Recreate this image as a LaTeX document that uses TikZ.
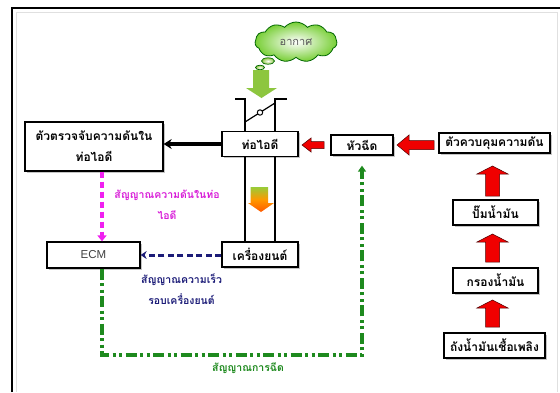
\documentclass[tikz,border=0pt]{standalone}
\usepackage{fontspec}
\setmainfont{Liberation Sans}
\newfontfamily\thai[Script=Thai]{Loma}
\usetikzlibrary{shapes.symbols,shadows,arrows.meta,calc}
\definecolor{leaf}{HTML}{8DC63F}
\definecolor{magline}{HTML}{F020F0}
\definecolor{navyline}{HTML}{1C1C78}
\definecolor{greenline}{HTML}{1E8A1E}
\definecolor{redfill}{HTML}{F00000}
\tikzset{
  box/.style={draw=black,line width=1.3pt,fill=white,inner sep=0pt,
    font=\thai\bfseries\fontsize{12}{14}\selectfont,
    drop shadow={shadow xshift=1.6pt,shadow yshift=-1.6pt,fill=black!45}},
  lbl/.style={inner sep=0pt,align=center,font=\thai\bfseries\fontsize{10.5}{21}\selectfont},
  redblk/.style={fill=redfill,draw=black!70!red,line width=0.5pt},
}
\begin{document}
\begin{tikzpicture}[x=1pt,y=-1pt]
\useasboundingbox (0,0) rectangle (560,392);
\fill[white] (0,0) rectangle (560,392);
% frame
\draw[black!12,line width=0.8pt] (16.5,392) -- (16.5,12) -- (557.5,12) -- (557.5,392);
\draw[line width=2pt] (12,392) -- (12,8) -- (560,8);

% cloud
\node[cloud,cloud puffs=11,cloud puff arc=100,aspect=2.3,draw=black!60!green,line width=0.8pt,
  inner color=white,outer color=leaf!85!green,minimum width=82pt,minimum height=40pt,
  inner sep=0pt,font=\thai\fontsize{11}{12}\selectfont,text=black!65] (air) at (296,42) {อากาศ};
\draw[black!60!green,line width=0.7pt,inner color=white,outer color=leaf] (268,61) ellipse (6.5pt and 3.2pt);
\draw[black!60!green,line width=0.7pt,inner color=white,outer color=leaf] (260,67.5) ellipse (4.5pt and 2.3pt);

% boxes
\node[box,minimum width=138pt,minimum height=49pt,align=center,
  font=\thai\bfseries\fontsize{12}{21}\selectfont] (sensor) at (94,146.5) {ตัวตรวจจับความดันใน\\ท่อไอดี};
\node[box,minimum width=76pt,minimum height=25pt] (intake) at (260,144) {ท่อไอดี};
\node[box,minimum width=76pt,minimum height=25pt] (engine) at (260,254.5) {เครื่องยนต์};
\node[box,minimum width=62pt,minimum height=20pt] (inj) at (362,145) {หัวฉีด};
\node[box,minimum width=111pt,minimum height=20pt] (reg) at (494.5,143) {ตัวควบคุมความดัน};
\node[box,minimum width=85pt,minimum height=25pt] (pump) at (495.5,212.5) {ปั๊มน้ำมัน};
\node[box,minimum width=85pt,minimum height=25pt] (filter) at (495.5,280.5) {กรองน้ำมัน};
\node[box,minimum width=101pt,minimum height=25pt] (tank) at (494.5,345.5) {ถังน้ำมันเชื้อเพลิง};
\node[box,minimum width=93pt,minimum height=26pt,font=\fontsize{11.5}{13}\selectfont,text=black!75] (ecm) at (93.5,255) {ECM};

% cylinder walls and throttle
\draw[line width=1.5pt] (235,99) -- (245,99) -- (intake.north -| 245,0);
\draw[line width=1.5pt] (287,99) -- (275,99) -- (intake.north -| 275,0);
\draw[line width=1.5pt] (intake.south -| 245,0) -- (engine.north -| 245,0);
\draw[line width=1.5pt] (intake.south -| 275,0) -- (engine.north -| 275,0);
\draw[line width=1.2pt] (245,122) -- (275,103);
\draw[line width=1pt,fill=white] (260,112.5) circle (2.7pt);

% green air arrow
\fill[leaf] (253,70) -- (269,70) -- (269,88) -- (277,88) -- (261.5,98) -- (246,88) -- (253,88) -- cycle;
% orange gradient arrow
\shade[top color=leaf!90!yellow,bottom color=orange!70!red,middle color=orange!80!yellow]
  (250.5,187) -- (268,187) -- (268,203) -- (274,203) -- (261,212) -- (248,203) -- (250.5,203) -- cycle;

% red block arrows
\draw[redblk] (302,145) -- (311,138) -- (311,141.5) -- (324,141.5) -- (324,148.5) -- (311,148.5) -- (311,152) -- cycle;
\draw[redblk] (397,145) -- (409,135) -- (409,140.5) -- (434,140.5) -- (434,149.5) -- (409,149.5) -- (409,155) -- cycle;
\foreach \t/\b in {166/196,234/262,300/327}{
  \draw[redblk] (492.5,\t) -- (508,\t+8) -- (499.5,\t+8) -- (499.5,\b) -- (485.5,\b) -- (485.5,\t+8) -- (477,\t+8) -- cycle;
}

% signal connectors
\draw[line width=3.4pt,-{Stealth[length=8pt,width=10pt]}] (intake.west) -- (intake.west -| sensor.east);
\coordinate (mtop) at ($(sensor.south)+(8,0)$);
\draw[magline,line width=3.4pt,dash pattern=on 6pt off 4pt,-{Triangle[length=6pt,width=9pt]}]
  (mtop) -- (mtop |- ecm.north);
\draw[navyline,line width=3pt,dash pattern=on 6pt off 3.5pt,-{Stealth[length=6pt,width=8pt]}]
  (engine.west |- ecm.east) -- (ecm.east);
\coordinate (gstart) at ($(ecm.south)+(8.5,0)$);
\coordinate (gcorner1) at (gstart |- 0,355);
\coordinate (gcorner2) at (inj.south |- 0,355);
\draw[greenline,line width=3.3pt,dash pattern=on 11pt off 3.5pt on 3pt off 3.5pt on 3pt off 3.5pt,
  -{Triangle[length=6pt,width=8pt]},shorten >=10pt]
  (gstart) -- (gcorner1) -- (gcorner2) -- (inj.south);

% labels
\node[lbl,text=magline!90!black] (lblp) at (167,204.5) {สัญญาณความดันในท่อ\\ไอดี};
\node[lbl,text=navyline] (lbls) at (181.5,289.5) {สัญญาณความเร็ว\\รอบเครื่องยนต์};
\node[lbl,text=greenline] (lbli) at (248,368) {สัญญาณการฉีด};
\end{tikzpicture}
\end{document}
